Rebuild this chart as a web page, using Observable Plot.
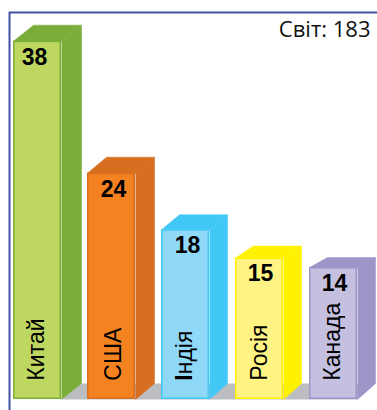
<!DOCTYPE html>
<html><head><meta charset="utf-8">
<style>html,body{margin:0;padding:0;background:#fff}svg{display:block}</style>
<script src="https://cdn.jsdelivr.net/npm/d3@7"></script>
<script src="https://cdn.jsdelivr.net/npm/@observablehq/plot@0.6"></script>
</head><body><script>
const categories = ["Китай","США","Індія","Росія","Канада"];
const values = [38,24,18,15,14];
const frontColors = ["#bdd760","#f58220","#8fd8f8","#fff384","#c5c0e0"];
const sideColors = ["#7bae39","#d66f1f","#41c8f6","#fff200","#9d94c8"];
const title = "Світ: 183";

// Drawing constants for the 3D look, in pixels
const stepPx = 74, pxPerUnit = 9.43;
const barW = 48/stepPx;
const depthX = [20,19,18,18,18].map(d=>d/stepPx);
const depthTop = [16,16,15,12,10].map(d=>d/pxPerUnit);
const depthBase = 16/pxPerUnit;
const valueNudge = [-3,2,2,1,1];
const labelNudge = [-1,2,-1,0,-1];

const bars = categories.map((name,i)=>({name,i,v:values[i],front:frontColors[i],side:sideColors[i]}));
const polys = [];
bars.forEach(b=>{
  const x0=b.i,x1=b.i+barW,dx=depthX[b.i],dt=depthTop[b.i];
  [[x1,b.v],[x1+dx,b.v+dt],[x1+dx,depthBase],[x1,0]].forEach(p=>polys.push({id:"s"+b.i,c:b.side,x:p[0],y:p[1]}));
  [[x0,b.v],[x0+dx,b.v+dt],[x1+dx,b.v+dt],[x1,b.v]].forEach(p=>polys.push({id:"t"+b.i,c:b.side,x:p[0],y:p[1]}));
});
const floor = [[barW,0],[barW+depthX[0],depthBase],[4+barW+depthX[4],depthBase],[4+barW,0]].map(p=>({x:p[0],y:p[1]}));

const chart = Plot.plot({
  width:377,height:410,margin:0,
  x:{type:"linear",domain:[0,5],range:[13,13+5*stepPx],axis:null},
  y:{type:"linear",domain:[0,399/pxPerUnit],range:[399,0],axis:null},
  color:{type:"identity"},
  style:{background:"#fff"},
  marks:[
    Plot.frame({stroke:"#4350a4",strokeWidth:2,insetLeft:9,insetTop:12,insetRight:-6,insetBottom:-6}),
    Plot.line(floor,{x:"x",y:"y",fill:"#bcbdc0",stroke:"none"}),
    Plot.line(polys,{x:"x",y:"y",z:"id",fill:"c",stroke:"c",strokeWidth:0.5}),
    Plot.rect(bars,{x1:"i",x2:d=>d.i+barW,y1:0,y2:"v",fill:"front",stroke:"side",strokeWidth:1.5,inset:0.75}),
    Plot.text(bars,{x:d=>d.i+barW/2,y:"v",text:d=>String(d.v),dx:0,dy:16,fontFamily:"Liberation Sans",fontWeight:"bold",fontSize:23,fill:"#000",
      render(idx,s,v,dim,ctx,next){const g=next(idx,s,v,dim,ctx);g.querySelectorAll("text").forEach((t,k)=>t.setAttribute("transform",(t.getAttribute("transform")||"")+` translate(${valueNudge[idx[k]]},0)`));return g;}}),
    Plot.text(bars,{x:d=>d.i+barW/2,y:2,text:"name",rotate:-90,textAnchor:"start",fontFamily:"Liberation Sans",fontSize:23,fill:"#000",
      render(idx,s,v,dim,ctx,next){const g=next(idx,s,v,dim,ctx);g.querySelectorAll("text").forEach((t,k)=>{
        const m=t.getAttribute("transform");t.setAttribute("transform",`translate(${labelNudge[idx[k]]},0) ${m}`);
        if(t.textContent==="Індія"){t.textContent="";const a=document.createElementNS("http://www.w3.org/2000/svg","tspan");a.setAttribute("font-weight","bold");a.textContent="І";t.appendChild(a);t.appendChild(document.createTextNode("ндія"));}
      });return g;}}),
    Plot.text([title],{frameAnchor:"top-right",dx:-7,dy:21,fontFamily:"Open Sans",fontSize:22,fill:"#111"})
  ]
});
document.body.appendChild(chart);
</script></body></html>
